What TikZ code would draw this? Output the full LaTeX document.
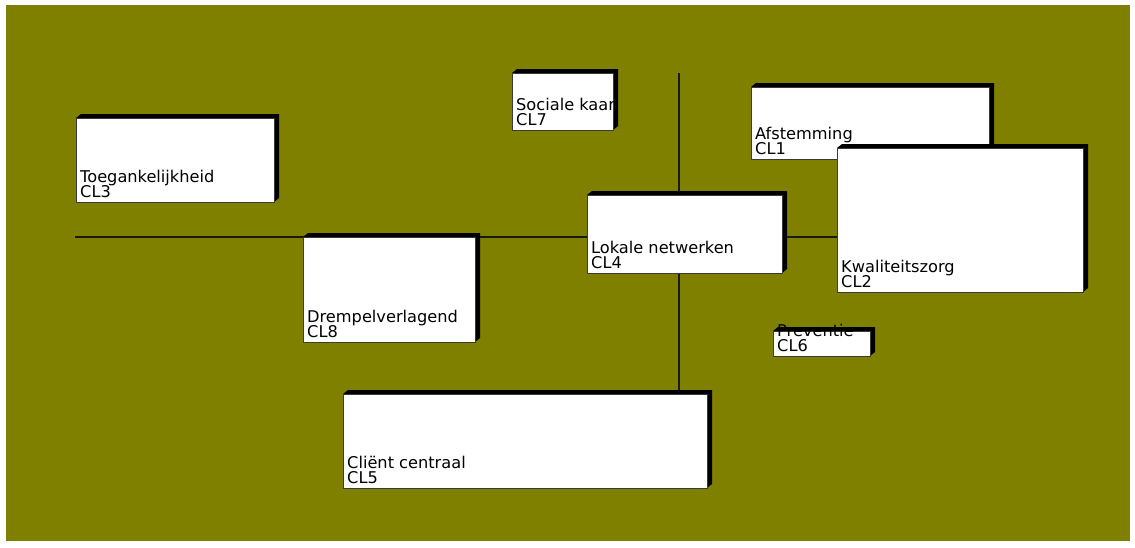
\documentclass[tikz,border=0pt]{standalone}
\usepackage{fontspec}
\setmainfont{DejaVu Sans}
\definecolor{olivebg}{HTML}{808000}
\definecolor{boxedge}{HTML}{3A3A3A}

% A cluster box: name, left, top, right, bottom (px, y downwards), title, code
\newcommand\clusterbox[7]{%
  \fill[black] (#2,#3) -- (#2+5,#3-4) -- (#4+5,#3-4) -- (#4+5,#5-4) -- (#4,#5) -- (#4,#3) -- cycle;
  \node[clbox, anchor=north west, minimum width={#4pt-#2pt}, minimum height={#5pt-#3pt}] (#1) at (#2,#3) {};
  \begin{scope}
    \clip (#2,#3-40) rectangle (#4,#5);
    \node[cltext] (#1-title) at (#2+4,#5-20) {#6};
    \node[cltext] (#1-code) at (#2+4,#5-5) {#7};
  \end{scope}%
}

\begin{document}
\begin{tikzpicture}[x=1pt,y=-1pt,
  clbox/.style={draw=boxedge, line width=0.8pt, fill=white, inner sep=0pt, outer sep=0pt},
  cltext/.style={anchor=base west, inner sep=0pt, text=black, font=\fontsize{16.2}{15}\selectfont},
  axisline/.style={draw=black!90, line width=1.1pt}]
  \useasboundingbox (0,0) rectangle (1135,547);
  \fill[white] (0,0) rectangle (1135,547);
  \fill[olivebg] (6,5) rectangle (1130,541);

  % axes
  \coordinate (hL) at (75,237);
  \coordinate (hR) at (837,237);
  \coordinate (vT) at (679,73);
  \coordinate (vB) at (679,392);
  \draw[axisline] (hL) -- (hR);
  \draw[axisline] (vT) -- (vB);

  % clusters
  \clusterbox{cl3}{76}{118}{274}{202}{Toegankelijkheid}{CL3}
  \clusterbox{cl7}{512}{73}{613}{130}{Sociale kaart}{CL7}
  \clusterbox{cl1}{751}{87}{989}{159}{Afstemming}{CL1}
  \clusterbox{cl2}{837}{148}{1083}{292}{Kwaliteitszorg}{CL2}
  \clusterbox{cl4}{587}{195}{782}{273}{Lokale netwerken}{CL4}
  \clusterbox{cl8}{303}{237}{475}{342}{Drempelverlagend}{CL8}
  \clusterbox{cl6}{773}{331}{870}{356}{Preventie}{CL6}
  \clusterbox{cl5}{343}{394}{707}{488}{Cliënt centraal}{CL5}
\end{tikzpicture}
\end{document}
